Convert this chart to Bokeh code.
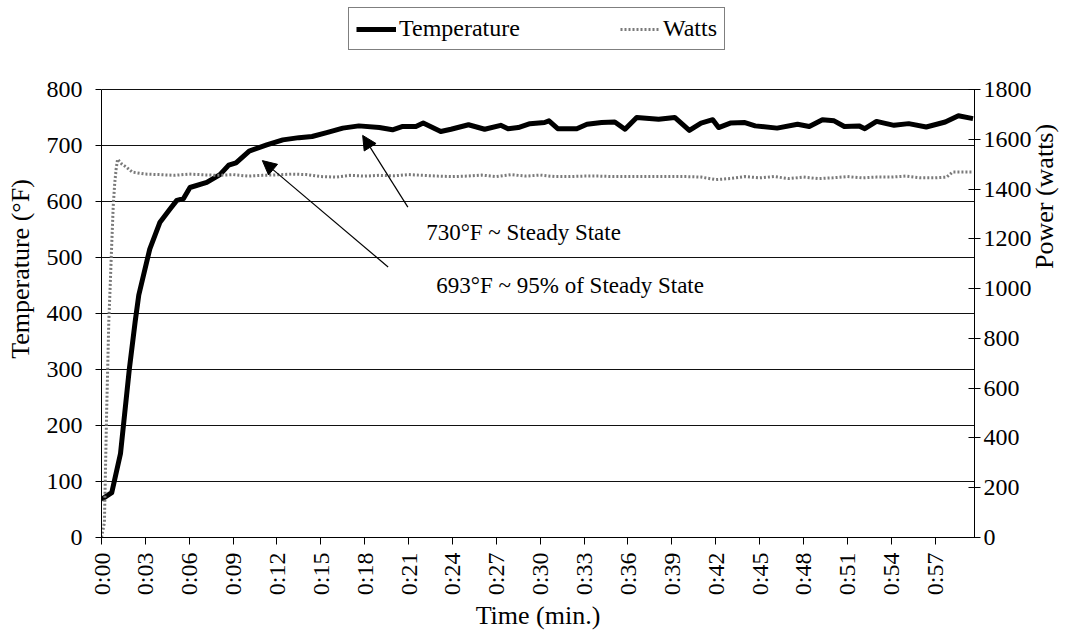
import numpy as np
from bokeh.plotting import figure
from bokeh.models import (Range1d, LinearAxis, FixedTicker, Arrow, NormalHead,
                          Label, Legend, LegendItem)
from bokeh.embed import file_html
from bokeh.resources import INLINE

# ---------------- data ----------------
temp_time = [0, 0.7, 1.3, 1.9, 2.3, 2.55, 3.3, 4.0, 4.7, 5.15,
             5.6, 6.05, 7.2, 8.1, 8.7, 9.2, 10.1, 11.3, 12.4, 13.5,
             14.4, 15.4, 16.5, 17.6, 19.0, 19.9, 20.6, 21.5, 22.0, 23.2,
             23.9, 25.1, 26.2, 27.3, 27.8, 28.5, 29.3, 30.3, 30.6, 31.2,
             32.5, 33.2, 34.2, 35.1, 35.8, 36.6, 38.1, 39.2, 40.2, 41.0,
             41.8, 42.2, 43.0, 44.0, 44.7, 46.2, 47.6, 48.4, 49.3, 50.1,
             50.8, 51.8, 52.2, 53.0, 54.2, 55.2, 56.4, 57.7, 58.6, 59.6]
temp_vals = [68, 80, 150, 300, 385, 433, 515, 563, 587, 602,
             605, 625, 634, 648, 665, 669, 690, 701, 710, 714,
             716, 723, 731, 735, 732, 728, 734, 734, 740, 725,
             729, 737, 729, 736, 730, 732, 739, 741, 744, 730,
             730, 738, 741, 742, 729, 750, 747, 750, 727, 740,
             746, 732, 740, 741, 735, 731, 738, 734, 746, 744,
             734, 735, 730, 743, 736, 739, 733, 742, 753, 748]

watts_time = [0, 0.2, 0.35, 0.5, 0.6, 0.7, 0.8, 0.9, 1.0, 1.1, 1.4, 1.7, 2.1,
              3, 4, 5, 6, 7, 8, 9, 10, 11, 12, 13, 14, 15, 16, 17, 18, 19, 20,
              21, 22, 23, 24, 25, 26, 27, 28, 29, 30, 31, 32, 33, 34, 35, 36, 37,
              38, 39, 40, 41, 42, 43, 44, 45, 46, 47, 48, 49, 50, 51, 52, 53, 54,
              55, 56, 57, 57.8, 58.2, 59, 59.6]
watts_vals = [0, 60, 500, 870, 1020, 1180, 1330, 1420, 1480, 1520, 1500, 1488, 1468,
              1460, 1458, 1455, 1460, 1457, 1455, 1458, 1452, 1455, 1457, 1460, 1458,
              1450, 1448, 1455, 1452, 1455, 1453, 1458, 1455, 1452, 1450, 1452, 1456,
              1450, 1458, 1452, 1456, 1450, 1450, 1452, 1452, 1450, 1450, 1450, 1450,
              1450, 1450, 1448, 1438, 1442, 1450, 1445, 1450, 1442, 1448, 1442, 1445,
              1450, 1445, 1448, 1448, 1452, 1445, 1445, 1448, 1468, 1468, 1468]

x_ticks = [0, 3, 6, 9, 12, 15, 18, 21, 24, 27, 30, 33, 36, 39, 42, 45, 48, 51, 54, 57]
x_tick_labels = ["0:00", "0:03", "0:06", "0:09", "0:12", "0:15", "0:18", "0:21",
                 "0:24", "0:27", "0:30", "0:33", "0:36", "0:39", "0:42", "0:45",
                 "0:48", "0:51", "0:54", "0:57"]
temp_ticks = [0, 100, 200, 300, 400, 500, 600, 700, 800]
watt_ticks = [0, 200, 400, 600, 800, 1000, 1200, 1400, 1600, 1800]

FONT = "Liberation Serif"
TEMP_MAX, WATT_MAX = 800, 1800
# extra room above the 800 line holds the legend (frame top = page top)
TOP_EXTRA = 1.1986
y_top = TEMP_MAX * TOP_EXTRA

p = figure(width=1076, height=635, x_range=Range1d(0, 59.7),
           y_range=Range1d(0, y_top),
           output_backend="svg", toolbar_location=None,
           min_border_left=101, min_border_right=100, min_border_top=0,
           min_border_bottom=98, background_fill_color="white",
           border_fill_color="white")
p.outline_line_color = None

p.extra_y_ranges = {"w": Range1d(0, WATT_MAX * TOP_EXTRA)}

# grid
p.xgrid.visible = False
p.ygrid.ticker = FixedTicker(ticks=temp_ticks)
p.ygrid.grid_line_color = "#111111"
p.ygrid.grid_line_width = 1

# x axis
xa = p.xaxis[0]
xa.ticker = FixedTicker(ticks=x_ticks)
xa.major_label_overrides = {t: l for t, l in zip(x_ticks, x_tick_labels)}
xa.major_label_orientation = np.pi / 2
xa.axis_label = "Time (min.)"
xa.major_tick_out = 7
xa.major_tick_in = 0
xa.major_label_standoff = 8
xa.axis_label_standoff = 3

# left axis
ya = p.yaxis[0]
ya.ticker = FixedTicker(ticks=temp_ticks)
ya.bounds = (0, TEMP_MAX)
ya.axis_label = "Temperature (°F)"
ya.major_tick_out = 6
ya.major_tick_in = 0
ya.major_label_standoff = 13
ya.axis_label_standoff = 9

# right axis
ra = LinearAxis(y_range_name="w", ticker=FixedTicker(ticks=watt_ticks),
                axis_label="Power (watts)", bounds=(0, WATT_MAX))
ra.major_tick_out = 6
ra.major_tick_in = 6
ra.major_label_standoff = 3
ra.axis_label_standoff = 10
try:
    ra.axis_label_orientation = np.pi / 2
except Exception:
    pass
p.add_layout(ra, "right")

for ax in [xa, ya, ra]:
    ax.minor_tick_line_color = None
    ax.axis_line_color = "black"
    ax.major_tick_line_color = "black"
    ax.major_label_text_font = FONT
    ax.major_label_text_font_size = "24px"
    ax.major_label_text_color = "black"
    ax.axis_label_text_font = FONT
    ax.axis_label_text_font_size = "26px"
    ax.axis_label_text_font_style = "normal"
    ax.axis_label_text_color = "black"

# series
r_temp = p.line(temp_time, temp_vals, line_color="black", line_width=5,
                line_join="round")
r_watts = p.line(watts_time, watts_vals, y_range_name="w", line_color="#7a7a7a",
                 line_width=3, line_dash="2 2")

# annotations
p.add_layout(Arrow(end=NormalHead(size=14, fill_color="black", line_color="black"),
                   x_start=20.95, y_start=590, x_end=17.86, y_end=718,
                   line_color="black", line_width=1.2))
p.add_layout(Arrow(end=NormalHead(size=14, fill_color="black", line_color="black"),
                   x_start=19.6, y_start=483, x_end=11.0, y_end=673,
                   line_color="black", line_width=1.2))
p.add_layout(Label(x=22.2, y=545, text="730°F ~ Steady State", text_font=FONT,
                   text_font_size="23px", text_baseline="middle", text_color="black"))
p.add_layout(Label(x=22.9, y=450, text="693°F ~ 95% of Steady State", text_font=FONT,
                   text_font_size="23px", text_baseline="middle", text_color="black"))

legend = Legend(items=[LegendItem(label="Temperature", renderers=[r_temp]),
                       LegendItem(label="Watts", renderers=[r_watts])],
                location=(247, 487), orientation="horizontal")
legend.label_text_font = FONT
legend.label_text_font_size = "24px"
legend.label_text_color = "black"
legend.border_line_color = "black"
legend.border_line_width = 1
legend.padding = 7
legend.margin = 0
legend.spacing = 100
legend.glyph_width = 40
legend.label_standoff = 3
legend.background_fill_color = "white"
legend.background_fill_alpha = 1
p.add_layout(legend)

open("out.html", "w").write(file_html(p, INLINE))
